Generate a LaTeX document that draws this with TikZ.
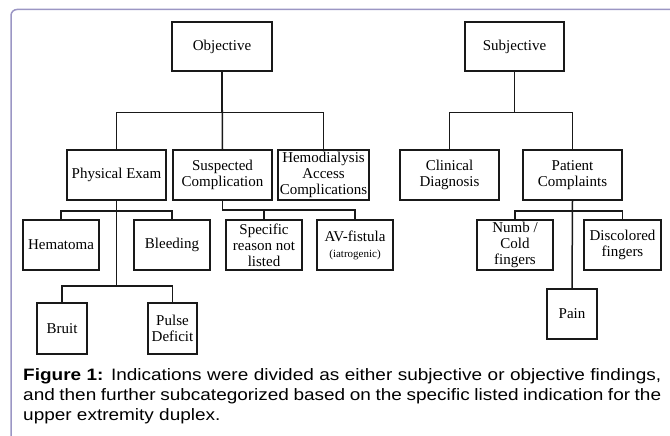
\documentclass[tikz,border=0pt]{standalone}
\usepackage{fontspec}
\setmainfont{Liberation Serif}
\newfontfamily\capfont[FakeStretch=1.15]{Liberation Sans}
\definecolor{framecol}{RGB}{155,150,196}
\definecolor{inkcol}{RGB}{25,25,25}

\begin{document}
\begin{tikzpicture}[x=1pt, y=-1pt,
		box/.style={draw=inkcol, line width=1.5pt, inner sep=1pt, align=center,
			font=\fontsize{15}{16}\selectfont},
		link/.style={draw=inkcol, line width=1.5pt}]
		\useasboundingbox (0,0) rectangle (670,436);

		% рамка
		\draw [framecol, line width=1.5pt, rounded corners=6pt] ( 672, 9.5 ) -- ( 11, 9.5 ) -- ( 11, 440 );

		% верхний уровень
		\node [box, minimum width=100pt, minimum height=49pt] (obj)  at ( 222.0, 46.5 ) {Objective};
		\node [box, minimum width=99pt,  minimum height=49pt] (subj) at ( 514.5, 46.5 ) {Subjective};

		% второй уровень
		\node [box, minimum width=99pt, minimum height=50pt] (pe) at ( 116.5, 175 ) {Physical Exam};
		\node [box, minimum width=99pt, minimum height=50pt] (sc) at ( 222.5, 175 ) {Suspected\\Complication};
		\node [box, minimum width=91pt, minimum height=50pt] (hd) at ( 323.5, 175 ) {Hemodialysis\\Access\\Complications};
		\node [box, minimum width=99pt, minimum height=50pt] (cd) at ( 449.5, 175 ) {Clinical\\Diagnosis};
		\node [box, minimum width=99pt, minimum height=50pt] (pc) at ( 572.5, 175 ) {Patient\\Complaints};

		% третий уровень
		\node [box, minimum width=76pt, minimum height=50pt] (hem)  at ( 61.0, 245 ) {Hematoma};
		\node [box, minimum width=76pt, minimum height=50pt] (bld)  at ( 172.0, 245 ) {Bleeding};
		\node [box, minimum width=76pt, minimum height=50pt] (spec) at ( 264.0, 245 ) {Specific\\reason not\\listed};
		\node [box, minimum width=76pt, minimum height=50pt] (av)   at ( 355.0, 245 ) {AV-fistula\\{\fontsize{11}{12}\selectfont (iatrogenic)}};
		\node [box, minimum width=76pt, minimum height=50pt] (numb) at ( 515.0, 245 ) {Numb /\\Cold\\fingers};
		\node [box, minimum width=77pt, minimum height=50pt] (disc) at ( 622.5, 245 ) {Discolored\\fingers};

		% четвертый уровень
		\node [box, minimum width=50pt, minimum height=51pt] (bruit) at ( 62.0, 328.5 ) {Bruit};
		\node [box, minimum width=49pt, minimum height=51pt] (pulse) at ( 172.5, 328.5 ) {Pulse\\Deficit};
		\node [box, minimum width=50pt, minimum height=50pt] (pain)  at ( 572.0, 314.0 ) {Pain};

		% связи Objective
		\draw [link] (obj.south) -- ++( 0, 41 ) -| (pe.north);
		\draw [link] (obj.south) -- (sc.north);
		\draw [link] (obj.south) -- ++( 0, 41 ) -| (hd.north);

		% связи Subjective
		\draw [link] (subj.south) -- ++( 0, 41 ) -| (cd.north);
		\draw [link] (subj.south) -- ++( 0, 41 ) -| (pc.north);

		% связи Physical Exam
		\draw [link] (pe.south) -- ++( 0, 10 ) -| (hem.north);
		\draw [link] (pe.south) -- ++( 0, 10 ) -| (bld.north);
		\draw [link] (pe.south) -- ++( 0, 85 ) -| (bruit.north);
		\draw [link] (pe.south) -- ++( 0, 85 ) -| (pulse.north);

		% связи Suspected Complication
		\draw [link] (sc.south) -- ++( 0, 9 ) -| (spec.north);
		\draw [link] (sc.south) -- ++( 0, 9 ) -| (av.north);

		% связи Patient Complaints
		\draw [link] (pc.south) -- ++( 0, 10 ) -| (numb.north);
		\draw [link] (pc.south) -- ++( 0, 10 ) -| (disc.north);
		\draw [link] (pc.south) -- (pain.north);

		% подпись
		\node [anchor=north west, inner sep=0pt, text width=638pt, align=justify,
			font=\capfont\fontsize{16.5}{20}\selectfont] (cap) at ( 23, 368 )
			{{\bfseries Figure 1:} Indications were divided as either subjective or objective findings,\linebreak
			and then further subcategorized based on the specific listed indication for the\linebreak
			upper extremity duplex.};
	\end{tikzpicture}
\end{document}
